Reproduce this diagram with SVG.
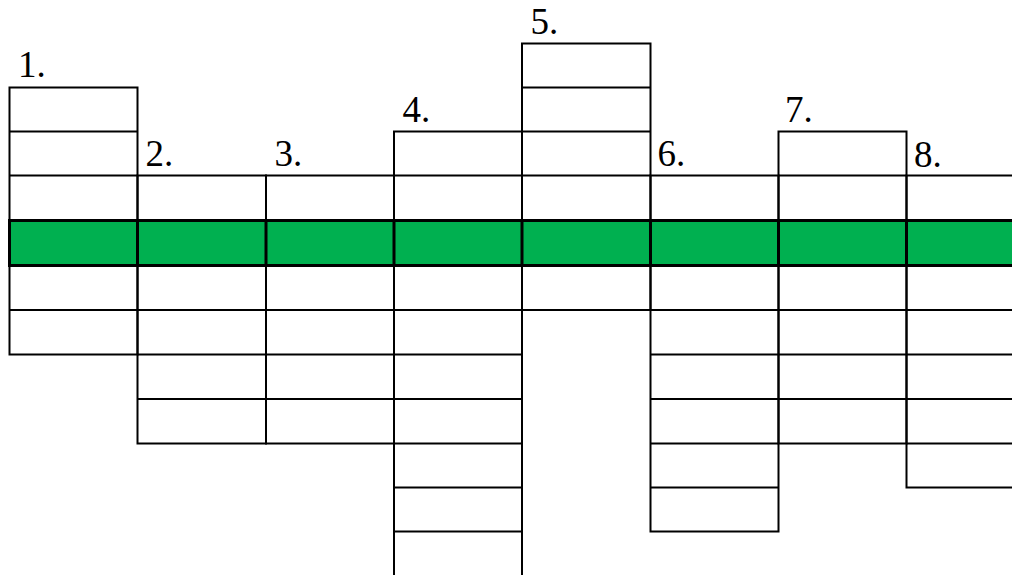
<svg xmlns="http://www.w3.org/2000/svg" width="1012" height="575" viewBox="0 0 1012 575">
<style>
.c{fill:none;stroke:#000;stroke-width:2}
.l{stroke:#000;stroke-width:2}
.g{fill:#00B050;stroke:#000;stroke-width:3}
.gd{stroke:#000;stroke-width:3}
.t{font-family:"Liberation Serif","Times New Roman",serif;font-size:37px;fill:#000}
</style>
<rect width="1012" height="575" fill="#fff"/>
<g id="word1">
<rect class="c" x="9.5" y="87.5" width="128" height="267"/>
<line class="l" x1="9.5" y1="131.5" x2="137.5" y2="131.5"/>
<line class="l" x1="9.5" y1="175.5" x2="137.5" y2="175.5"/>
<line class="l" x1="9.5" y1="310" x2="137.5" y2="310"/>
<text class="t" x="18" y="77">1.</text>
</g>
<g id="word2">
<rect class="c" x="137.5" y="175.5" width="128.5" height="268"/>
<line class="l" x1="137.5" y1="310" x2="266" y2="310"/>
<line class="l" x1="137.5" y1="354.5" x2="266" y2="354.5"/>
<line class="l" x1="137.5" y1="399" x2="266" y2="399"/>
<text class="t" x="145.5" y="166">2.</text>
</g>
<g id="word3">
<rect class="c" x="266" y="175.5" width="128" height="268"/>
<line class="l" x1="266" y1="310" x2="394" y2="310"/>
<line class="l" x1="266" y1="354.5" x2="394" y2="354.5"/>
<line class="l" x1="266" y1="399" x2="394" y2="399"/>
<text class="t" x="274.5" y="166">3.</text>
</g>
<g id="word4">
<rect class="c" x="394" y="131.5" width="128" height="460"/>
<line class="l" x1="394" y1="175.5" x2="522" y2="175.5"/>
<line class="l" x1="394" y1="310" x2="522" y2="310"/>
<line class="l" x1="394" y1="354.5" x2="522" y2="354.5"/>
<line class="l" x1="394" y1="399" x2="522" y2="399"/>
<line class="l" x1="394" y1="443.5" x2="522" y2="443.5"/>
<line class="l" x1="394" y1="487.5" x2="522" y2="487.5"/>
<line class="l" x1="394" y1="531.5" x2="522" y2="531.5"/>
<text class="t" x="402.5" y="122">4.</text>
</g>
<g id="word5">
<rect class="c" x="522" y="43.5" width="128.5" height="266.5"/>
<line class="l" x1="522" y1="87.5" x2="650.5" y2="87.5"/>
<line class="l" x1="522" y1="131.5" x2="650.5" y2="131.5"/>
<line class="l" x1="522" y1="175.5" x2="650.5" y2="175.5"/>
<text class="t" x="530.5" y="33.5">5.</text>
</g>
<g id="word6">
<rect class="c" x="650.5" y="175.5" width="128" height="356"/>
<line class="l" x1="650.5" y1="310" x2="778.5" y2="310"/>
<line class="l" x1="650.5" y1="354.5" x2="778.5" y2="354.5"/>
<line class="l" x1="650.5" y1="399" x2="778.5" y2="399"/>
<line class="l" x1="650.5" y1="443.5" x2="778.5" y2="443.5"/>
<line class="l" x1="650.5" y1="487.5" x2="778.5" y2="487.5"/>
<text class="t" x="657.5" y="166">6.</text>
</g>
<g id="word7">
<rect class="c" x="778.5" y="131.5" width="128" height="312"/>
<line class="l" x1="778.5" y1="175.5" x2="906.5" y2="175.5"/>
<line class="l" x1="778.5" y1="310" x2="906.5" y2="310"/>
<line class="l" x1="778.5" y1="354.5" x2="906.5" y2="354.5"/>
<line class="l" x1="778.5" y1="399" x2="906.5" y2="399"/>
<text class="t" x="785" y="122">7.</text>
</g>
<g id="word8">
<rect class="c" x="906.5" y="175.5" width="128" height="312"/>
<line class="l" x1="906.5" y1="310" x2="1035" y2="310"/>
<line class="l" x1="906.5" y1="354.5" x2="1035" y2="354.5"/>
<line class="l" x1="906.5" y1="399" x2="1035" y2="399"/>
<line class="l" x1="906.5" y1="443.5" x2="1035" y2="443.5"/>
<text class="t" x="914" y="166.5">8.</text>
</g>
<g id="keyword-row">
<rect class="g" x="9.5" y="220.5" width="1030" height="45"/>
<line class="gd" x1="137.5" y1="220.5" x2="137.5" y2="265.5"/>
<line class="gd" x1="266" y1="220.5" x2="266" y2="265.5"/>
<line class="gd" x1="394" y1="220.5" x2="394" y2="265.5"/>
<line class="gd" x1="522" y1="220.5" x2="522" y2="265.5"/>
<line class="gd" x1="650.5" y1="220.5" x2="650.5" y2="265.5"/>
<line class="gd" x1="778.5" y1="220.5" x2="778.5" y2="265.5"/>
<line class="gd" x1="906.5" y1="220.5" x2="906.5" y2="265.5"/>
</g>
<g id="connectors"></g>
</svg>
